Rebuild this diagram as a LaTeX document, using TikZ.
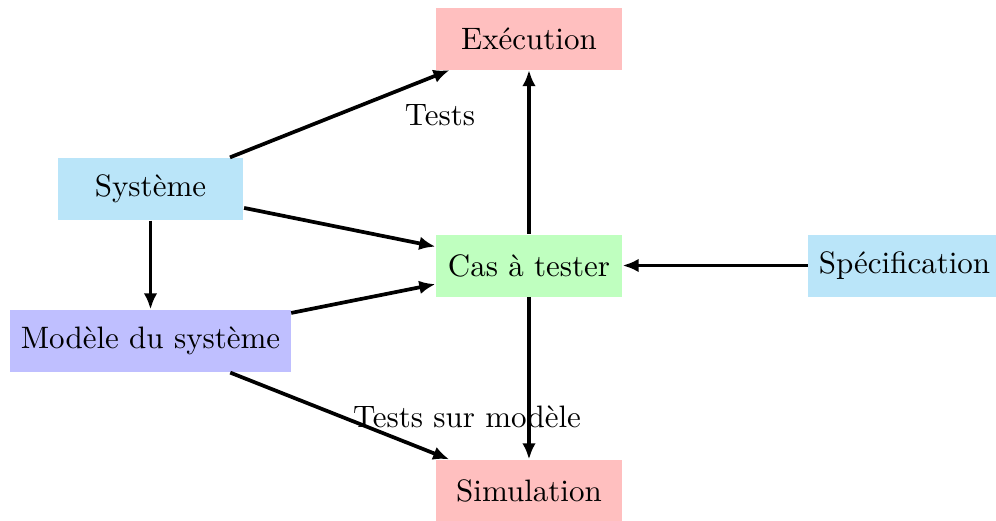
\documentclass[tikz,border=0pt]{standalone}
\usetikzlibrary{arrows.meta}
\definecolor{boxred}{RGB}{255,191,191}
\definecolor{boxcyan}{RGB}{186,229,249}
\definecolor{boxgreen}{RGB}{191,255,191}
\definecolor{boxblue}{RGB}{191,191,255}
\tikzset{
  box/.style={inner sep=3.33pt, minimum width=60pt, minimum height=20pt},
  conn/.style={-{Latex[length=5.2pt,width=4.4pt]}, line width=1.2pt},
  lbl/.style={inner sep=0pt}
}
\begin{document}
\begin{tikzpicture}[x=0.32258pt, y=-0.32258pt]
\useasboundingbox (0,0) rectangle (996,521);
\node[box, fill=boxred]   (exe)  at (529,38.5)  {Exécution};
\node[box, fill=boxcyan]  (sys)  at (150.5,189) {Système};
\node[box, fill=boxgreen] (cas)  at (529,265.5) {Cas à tester};
\node[box, fill=boxcyan]  (spec) at (904.5,265.5) {Spécification};
\node[box, fill=boxblue]  (mod)  at (150.5,341) {Modèle du système};
\node[box, fill=boxred]   (sim)  at (529,491)   {Simulation};
\node[lbl] (ltests) at (440,115) {Tests};
\node[lbl] (lmod)   at (467,417) {Tests sur modèle};
\draw[conn] (sys) -- (exe);
\draw[conn] (sys) -- (cas);
\draw[conn] (sys) -- (mod);
\draw[conn] (mod) -- (cas);
\draw[conn] (mod) -- (sim);
\draw[conn] (cas) -- (exe);
\draw[conn] (cas) -- (sim);
\draw[conn] (spec) -- (cas);
\end{tikzpicture}
\end{document}
